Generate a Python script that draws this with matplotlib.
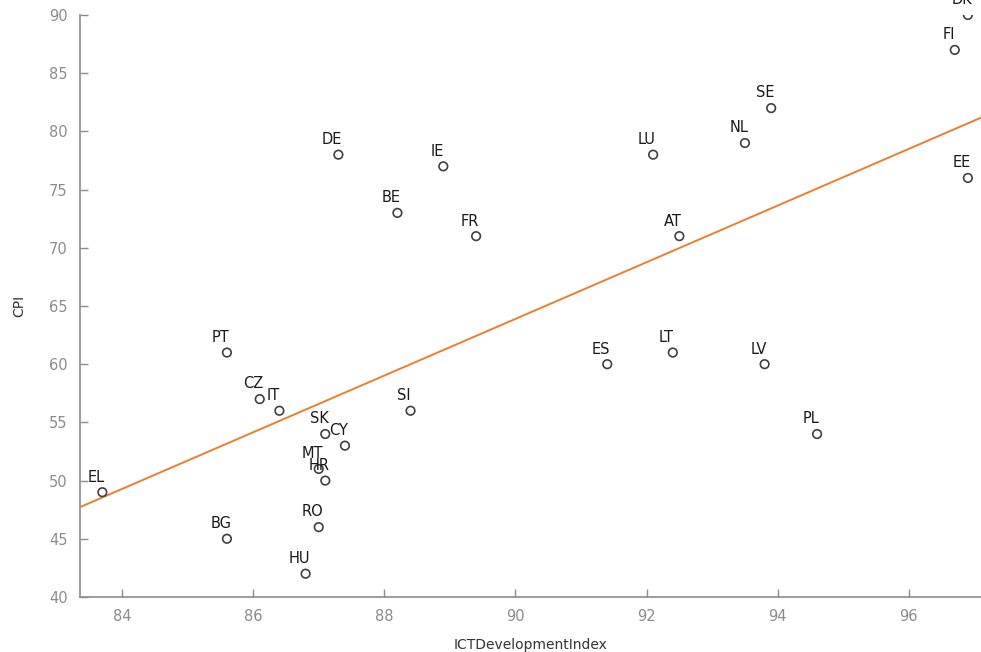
import numpy as np
import matplotlib
matplotlib.use("Agg")
import matplotlib.pyplot as plt

# dados: país, ICT Development Index, CPI
paises = ["DK", "FI", "SE", "NL", "LU", "EE", "DE", "IE", "BE", "FR", "AT",
          "PT", "ES", "LT", "LV", "CZ", "IT", "SI", "SK", "CY", "PL", "MT",
          "HR", "EL", "RO", "BG", "HU"]
ict = [96.9, 96.7, 93.9, 93.5, 92.1, 96.9, 87.3, 88.9, 88.2, 89.4, 92.5,
       85.6, 91.4, 92.4, 93.8, 86.1, 86.4, 88.4, 87.1, 87.4, 94.6, 87.0,
       87.1, 83.7, 87.0, 85.6, 86.8]
cpi = [90, 87, 82, 79, 78, 76, 78, 77, 73, 71, 71,
       61, 60, 61, 60, 57, 56, 56, 54, 53, 54, 51,
       50, 49, 46, 45, 42]

xmin, xmax = 83.36, 97.1

fig = plt.figure(figsize=(9.81, 6.52), dpi=100)
ax = fig.add_axes([0.0816, 0.0844, 0.9184, 0.8926])

ax.scatter(ict, cpi, s=38, facecolors="none", edgecolors="#404040",
           linewidths=1.2, zorder=3)

for nome, x, y in zip(paises, ict, cpi):
    ax.annotate(nome, (x, y), xytext=(-4.5, 5.5), textcoords="offset points",
                ha="center", va="bottom", fontsize=10.5, color="#1a1a1a",
                annotation_clip=False)

# linha de tendência (mínimos quadrados)
a, b = np.polyfit(ict, cpi, 1)
xs = np.array([xmin, xmax])
ax.plot(xs, a * xs + b, color="#ED7D31", linewidth=1.4, zorder=2)

ax.set_xlim(xmin, xmax)
ax.set_ylim(40, 90)
ax.set_xticks([84, 86, 88, 90, 92, 94, 96])
ax.set_yticks(range(40, 91, 5))

for s in ["top", "right"]:
    ax.spines[s].set_visible(False)
for s in ["left", "bottom"]:
    ax.spines[s].set_color("#8c8c8c")
    ax.spines[s].set_linewidth(1.2)

ax.tick_params(direction="in", length=6, width=1, color="#8c8c8c",
               labelcolor="#8c8c8c", labelsize=10.5, pad=9)

ax.set_xlabel("ICTDevelopmentIndex", fontsize=10, color="#333333", labelpad=10)
ax.set_ylabel("CPI", fontsize=10, color="#333333", labelpad=16)

fig.savefig("out.png", dpi=100)
